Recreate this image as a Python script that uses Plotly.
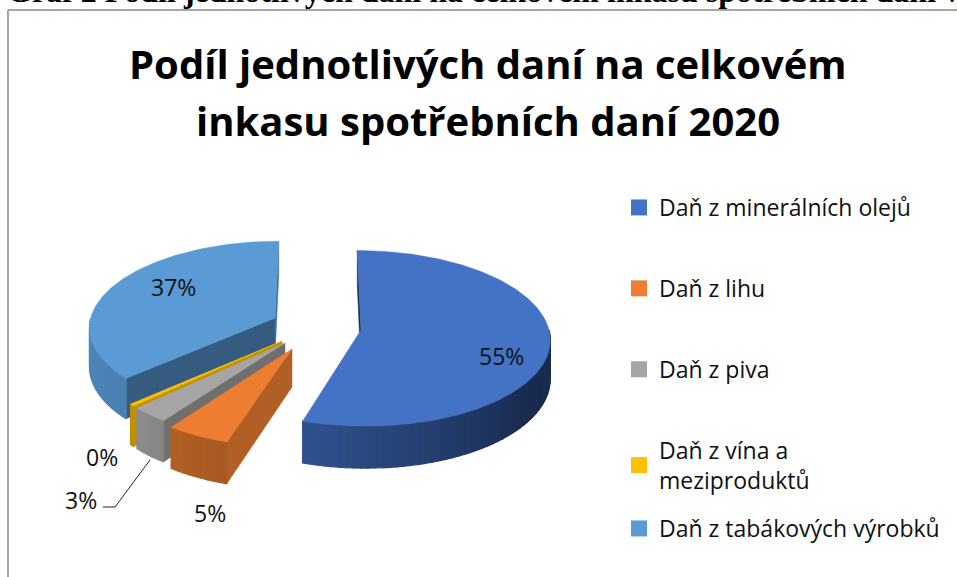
import math
import plotly.graph_objects as go

TITLE_LINES = ["Podíl jednotlivých daní na celkovém", "inkasu spotřebních daní 2020"]
HEADING = "Graf 2 Podíl jednotlivých daní na celkovém inkasu spotřebních daní v"
categories = ["Daň z minerálních olejů", "Daň z lihu", "Daň z piva",
              "Daň z vína a<br>meziproduktů", "Daň z tabákových výrobků"]
values = [54.9, 5.0, 3.0, 0.4, 36.7]
colors = ["#4472c4", "#ed7d31", "#a5a5a5", "#ffc000", "#5b9bd5"]
wall_light = ["#2f528f", "#b05f24", "#8c8c8c", "#bf9000", "#4f87bb"]
wall_dark = ["#1a2b4f", "#a85a22", "#858585", "#bf9000", "#4a80b2"]
cut_face = ["#1c2f55", "#b25f25", "#6f6f6f", "#bf9000", "#355c80"]
apex = [(361, 330), (292, 349), (285, 343), (282, 341), (275, 318)]
radius = [1.0, 1.0, 1.0, 1.0, 0.98]
label_pos = [(501, 356), (210, 513), (81, 500), (102, 457), (173, 287)]

RX, RY, DEPTH, K, VX, VY = 188, 87, 38, 0.095, 318, 330


def proj(c, deg, r=1.0, d=0):
    a = math.radians(deg)
    sx, sy = math.sin(a), -math.cos(a)
    f = 1 / (1 - K * sy)
    return (VX + (c[0] + RX * r * sx - VX) * f,
            VY + (c[1] + RY * r * sy + d - VY) * f)


def poly(fig, pts, color, w=0.5):
    fig.add_trace(go.Scatter(x=[p[0] for p in pts] + [pts[0][0]],
                             y=[p[1] for p in pts] + [pts[0][1]],
                             mode="lines", fill="toself", fillcolor=color,
                             line=dict(color=color, width=w),
                             hoverinfo="skip", showlegend=False))


def mix(c1, c2, t):
    a = [int(c1[i:i + 2], 16) for i in (1, 3, 5)]
    b = [int(c2[i:i + 2], 16) for i in (1, 3, 5)]
    return "#" + "".join(f"{round(x + (y - x) * t):02x}" for x, y in zip(a, b))


fig = go.Figure()

spans = []
cum = 0.0
total = sum(values)
for v in values:
    spans.append((cum / total * 360, (cum + v) / total * 360))
    cum += v

for i in [4, 3, 2, 1, 0]:
    a0, a1 = spans[i]
    c = apex[i]
    r = radius[i]
    poly(fig, [c, proj(c, a0, r), proj(c, a0, r, d=DEPTH), (c[0], c[1] + DEPTH)], cut_face[i])
    if i == 4:
        poly(fig, [c, proj(c, a1, r), proj(c, a1, r, d=DEPTH), (c[0], c[1] + DEPTH)], "#41719c")
    w0, w1 = max(a0, 90), min(a1, 270)
    if w1 > w0:
        n = max(1, int((w1 - w0) / 2))
        for j in range(n):
            s0 = w0 + (w1 - w0) * j / n
            s1 = w0 + (w1 - w0) * (j + 1) / n
            t = (w1 - (s0 + s1) / 2) / (w1 - w0)
            col = mix(wall_light[i], wall_dark[i], min(1, t * 1.5) if i == 0 else t)
            poly(fig, [proj(c, s0, r), proj(c, s1, r), proj(c, s1, r, d=DEPTH), proj(c, s0, r, d=DEPTH)], col, 1.2)
    n = max(2, int(a1 - a0) + 1)
    arc = [proj(c, a0 + (a1 - a0) * j / n, r) for j in range(n + 1)]
    poly(fig, [c] + arc, colors[i])

for i, name in enumerate(categories):
    fig.add_trace(go.Scatter(x=[None], y=[None], mode="markers", name=name, legendgroup=name,
                             legend="legend2" if i == 4 else "legend",
                             marker=dict(symbol="square", size=16, color=colors[i])))

for v, (x, y) in zip(values, label_pos):
    fig.add_annotation(x=x, y=y, xref="x", yref="y", text=f"{round(v)}%", showarrow=False,
                       font=dict(family="Open Sans", size=23, color="#111111"))

fig.add_annotation(x=5, y=0, xref="x", yref="y", xanchor="left", yanchor="bottom", yshift=-11,
                   text=f"<b>{HEADING}</b>", showarrow=False, align="left",
                   font=dict(family="Liberation Serif", size=32, color="#000000"))
for line, y in zip(TITLE_LINES, [63, 120]):
    fig.add_annotation(x=488, y=y, xref="x", yref="y", text=f"<b>{line}</b>", showarrow=False,
                       font=dict(family="Open Sans", size=40, color="#000000"))

frame = dict(color="#a6a6a6", width=2)
fig.add_shape(type="line", x0=8, y0=10, x1=8, y1=577, line=frame)
fig.add_shape(type="line", x0=8, y0=10, x1=957, y1=10, line=frame)
fig.add_shape(type="path", path="M 103 507 L 115 507 L 150 460", line=dict(color="#222222", width=1))

legend_style = dict(xanchor="left", yanchor="top",
                    font=dict(family="Open Sans", size=23, color="#111111"),
                    itemclick=False, itemdoubleclick=False, bgcolor="rgba(0,0,0,0)")
fig.update_layout(
    width=957, height=577, margin=dict(l=0, r=0, t=0, b=0), autosize=False,
    paper_bgcolor="white", plot_bgcolor="white",
    xaxis=dict(range=[0, 957], visible=False, fixedrange=True),
    yaxis=dict(range=[577, 0], visible=False, fixedrange=True),
    legend=dict(x=619 / 957, y=1 - 186 / 577, tracegroupgap=48, **legend_style),
    legend2=dict(x=619 / 957, y=1 - 507 / 577, **legend_style),
)
fig.write_html("out.html", config={"displayModeBar": False},
               post_script="document.body.style.margin='0';document.documentElement.style.overflow='hidden';")
